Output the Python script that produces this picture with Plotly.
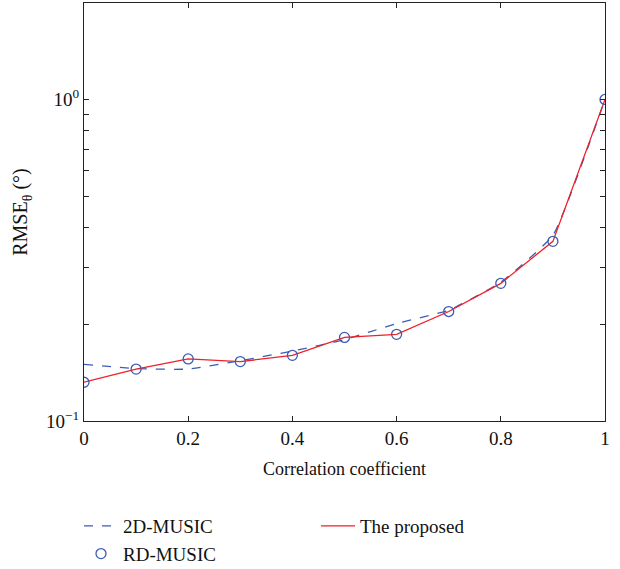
import plotly.graph_objects as go

x_vals = [0, 0.1, 0.2, 0.3, 0.4, 0.5, 0.6, 0.7, 0.8, 0.9, 1.0]
music2d = [0.150, 0.1455, 0.145, 0.154, 0.165, 0.179, 0.201, 0.221, 0.270, 0.378, 1.0]
rdmusic = [0.132, 0.145, 0.156, 0.153, 0.160, 0.182, 0.186, 0.219, 0.268, 0.362, 1.0]
proposed = [0.132, 0.145, 0.156, 0.153, 0.160, 0.182, 0.186, 0.219, 0.268, 0.362, 1.0]

y_tickvals = [0.1, 0.2, 0.3, 0.4, 0.5, 0.6, 0.7, 0.8, 0.9, 1, 2]
y_ticktext = ["10<sup>\u22121</sup>", "", "", "", "", "", "", "", "", "10<sup>0</sup>", ""]
x_tickvals = [0, 0.2, 0.4, 0.6, 0.8, 1]
x_ticktext = ["0", "0.2", "0.4", "0.6", "0.8", "1"]

FONT = "Liberation Serif"
BLUE = "#3a5cb4"
RED = "#ee2028"

fig = go.Figure()
fig.add_trace(go.Scatter(x=x_vals, y=music2d, mode="lines", name="2D-MUSIC",
                         line=dict(color=BLUE, width=1.3, dash="dash", shape="spline", smoothing=0.4),
                         legendrank=1))
fig.add_trace(go.Scatter(x=x_vals, y=proposed, mode="lines", name="The proposed",
                         line=dict(color=RED, width=1.3), legendrank=2))
fig.add_trace(go.Scatter(x=x_vals, y=rdmusic, mode="markers", name="RD-MUSIC",
                         marker=dict(symbol="circle-open", size=10, color=BLUE, line=dict(width=1.3)),
                         legendrank=3))

fig.update_layout(
    width=620, height=569,
    margin=dict(l=84, r=15, t=3, b=148, autoexpand=False),
    paper_bgcolor="white", plot_bgcolor="white",
    font=dict(family=FONT, size=18, color="#111"),
    showlegend=True,
    legend=dict(orientation="h", xref="container", yref="container",
                x=79 / 620, xanchor="left", y=1 - 507 / 569, yanchor="top",
                entrywidth=188, entrywidthmode="pixels", font=dict(size=19, family=FONT),
                itemwidth=34, tracegroupgap=0, bgcolor="rgba(0,0,0,0)"),
)
fig.update_xaxes(range=[0, 1], tickvals=x_tickvals, ticktext=x_ticktext, automargin=False,
                 ticks="inside", ticklen=5, tickcolor="#222", showline=True, linecolor="#222",
                 linewidth=1.2, mirror="ticks", showgrid=False, zeroline=False,
                 tickfont=dict(size=19),
                 title=dict(text="Correlation coefficient", font=dict(size=18), standoff=14))
fig.update_yaxes(type="log", range=[-1, 0.3], tickvals=y_tickvals, ticktext=y_ticktext, automargin=False,
                 ticks="inside", ticklen=5, tickcolor="#222", showline=True, linecolor="#222",
                 linewidth=1.2, mirror="ticks", showgrid=False, zeroline=False,
                 tickfont=dict(size=19),
                 title=dict(text="RMSE<sub>\u03b8</sub> (\u00b0)", font=dict(size=20), standoff=12))

fig.write_html("out.html", config={"displayModeBar": False},
               post_script="document.body.style.margin='0';document.body.style.overflow='hidden';")
